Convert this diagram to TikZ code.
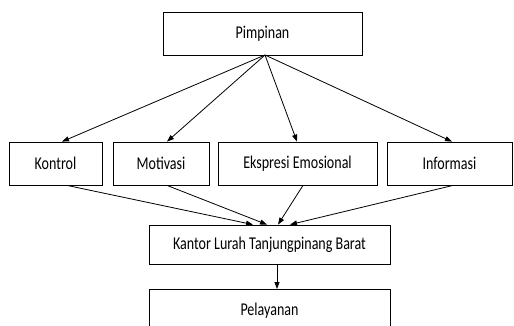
\documentclass[tikz,border=0pt]{standalone}
\usepackage{fontspec}
\usepackage{graphicx}
\setmainfont{Carlito}
\usetikzlibrary{arrows.meta}
\newcommand{\narrowtxt}[1]{\scalebox{0.78}[1]{#1}}
\begin{document}
\begin{tikzpicture}[x=1pt,y=-1pt,
  box/.style={draw,line width=0.8pt,inner sep=0pt,font=\fontsize{18}{20}\selectfont},
  arr/.style={draw,line width=0.8pt,-{Triangle[length=7pt,width=5pt]}}]
\useasboundingbox (0,0) rectangle (514,325);
\clip (0,0) rectangle (514,325);
\node[box,minimum width=199pt,minimum height=43pt] (p) at (262.5,33.5) {\narrowtxt{Pimpinan}};
\node[box,minimum width=93pt,minimum height=43pt] (k) at (55.5,163.5) {\narrowtxt{Kontrol}};
\node[box,minimum width=96pt,minimum height=43pt] (m) at (161,163.5) {\narrowtxt{Motivasi}};
\node[box,minimum width=159pt,minimum height=43pt] (e) at (297.5,163.5) {\narrowtxt{Ekspresi Emosional}};
\node[box,minimum width=125pt,minimum height=43pt] (i) at (449.5,163.5) {\narrowtxt{Informasi}};
\node[box,minimum width=241pt,minimum height=39pt] (t) at (269.5,244.5) {\narrowtxt{Kantor Lurah Tanjungpinang Barat}};
\node[box,minimum width=241pt,minimum height=50pt,anchor=north] (s) at (269.5,289) {};
\node[font=\fontsize{18}{20}\selectfont,anchor=base,inner sep=0pt] (sl) at (269.5,315) {\narrowtxt{Pelayanan}};
\coordinate (po) at (265,55);
\draw[arr] (po) -- (k.north -| 62,0);
\draw[arr] (po) -- (m.north -| 167,0);
\draw[arr] (po) -- (e.north -| 297,0);
\draw[arr] (po) -- (i.north -| 452,0);
\draw[arr] (k.south -| 67,0) -- (t.north -| 253,0);
\draw[arr] (m.south -| 167,0) -- (t.north -| 267,0);
\draw[arr] (e.south -| 303,0) -- (t.north -| 278,0);
\draw[arr] (i.south -| 453,0) -- (t.north -| 290,0);
\draw[arr] (t.south -| 277,0) -- (s.north -| 277,0);
\end{tikzpicture}
\end{document}
